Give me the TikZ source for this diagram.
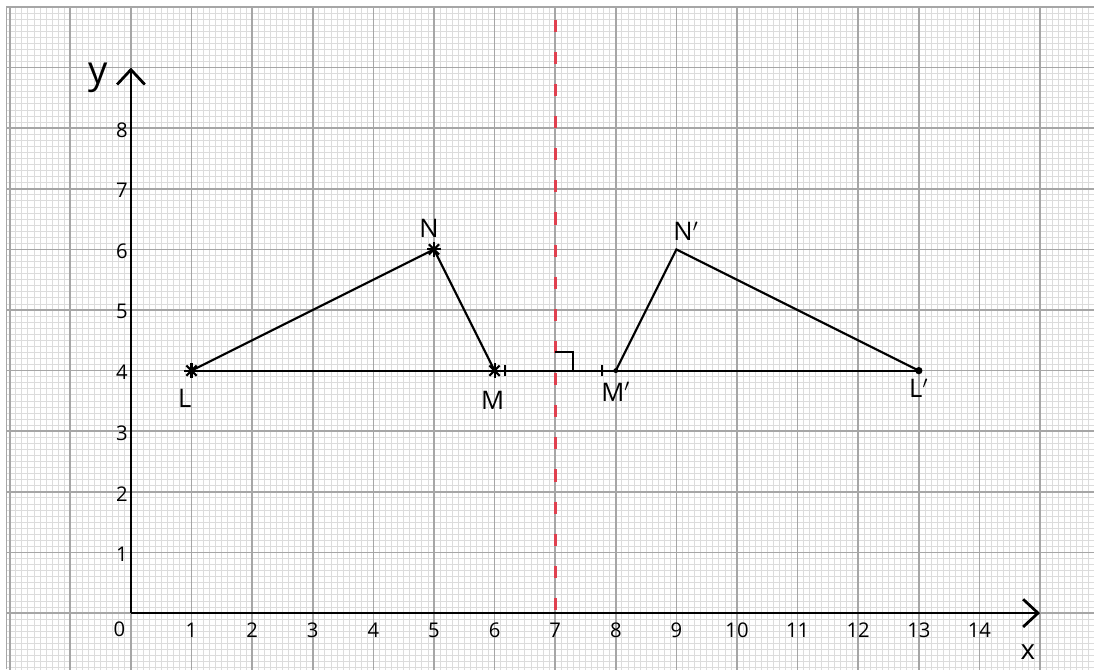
\documentclass[tikz,border=0pt]{standalone}
\usepackage{fontspec}
\setmainfont{Open Sans}
\usetikzlibrary{arrows.meta}
\definecolor{minorc}{HTML}{DCDCDC}
\definecolor{majorc}{HTML}{A6A6A6}
\definecolor{mirrorred}{HTML}{E0404F}
\tikzset{
  minorgrid/.style={draw=minorc, line width=0.4pt},
  majorgrid/.style={draw=majorc, line width=0.8pt},
  axisline/.style={black, line width=1.3pt, -{Straight Barb[length=7pt,width=13pt,line width=1.3pt]}},
  shapeline/.style={black, line width=1pt},
  ticklbl/.style={font=\fontsize{9.5}{9.5}\selectfont, inner sep=0pt},
  ptlbl/.style={font=\fontsize{12}{12}\selectfont, inner sep=0pt},
  mirror/.style={mirrorred, line width=1.4pt, dash pattern=on 0.2cm off 0.33cm},
}
\begin{document}
\begin{tikzpicture}[x=1cm,y=1cm]
\useasboundingbox[fill=white] (-2.16,-0.924) rectangle (15.89,10.115);
% graph paper
\begin{scope}
  \clip (-2.05,-0.93) rectangle (15.9,10.0);
  \draw[minorgrid, step=0.1] (-2.1,-1) grid (16,10.1);
  \draw[majorgrid, step=1] (-2.1,-1) grid (16,10.1);
\end{scope}
\draw[draw=majorc, line width=0.6pt] (-2.05,-0.93) -- (-2.05,10.0) -- (15.9,10.0);

% mirror line
\coordinate (mtop) at (7,9.79);
\coordinate (mbot) at (7,0);
\draw[mirror] (mtop) -- (mbot);

% axes
\coordinate (O) at (0,0);
\coordinate (xend) at (15,0);
\coordinate (yend) at (0,9);
\draw[axisline] (O) -- (xend);
\draw[axisline] (O) -- (yend);
\node[font=\fontsize{18}{18}\selectfont, inner sep=0pt] (ylab) at (-0.54,8.83) {y};
\node[font=\fontsize{13}{13}\selectfont, inner sep=0pt] (xlab) at (14.8,-0.64) {x};
\node[ticklbl] (x0) at (-0.19,-0.26) {0};
\foreach \i in {1,...,14} {
  \node[ticklbl] (x\i) at (\i,-0.28) {\i};
}
\foreach \j in {1,...,8} {
  \node[ticklbl] (y\j) at (-0.15,\j-0.03) {\j};
}

% points
\coordinate (L) at (1,4);
\coordinate (M) at (6,4);
\coordinate (N) at (5,6);
\coordinate (Lp) at (13,4);
\coordinate (Mp) at (8,4);
\coordinate (Np) at (9,6);

% triangles and connecting line
\draw[shapeline] (L) -- (Lp);
\draw[shapeline] (L) -- (N) -- (M);
\draw[shapeline] (Mp) -- (Np) -- (Lp);

% equal-distance ticks
\coordinate (t1) at (6.17,4);
\coordinate (t2) at (7.77,4);
\draw[shapeline] ([yshift=-0.09cm]t1) -- ([yshift=0.09cm]t1);
\draw[shapeline] ([yshift=-0.09cm]t2) -- ([yshift=0.09cm]t2);

% right angle mark
\coordinate (ra1) at (7,4.3);
\coordinate (ra2) at (7.3,4.3);
\coordinate (ra3) at (7.3,4);
\draw[black, line width=0.9pt] (ra1) -- (ra2) -- (ra3);

% star markers
\foreach \p in {L,M,N} {
  \foreach \a in {0,45,90,135} {
    \draw[black, line width=1pt] (\p) ++(\a:0.12) -- ++(\a+180:0.24);
  }
}
% dots
\fill[black] (Lp) circle (0.06);
\fill[black] (Mp) circle (0.04);

% labels
\node[ptlbl] (Nl) at (4.92,6.35) {N};
\node[ptlbl] (Npl) at (9.16,6.3) {N$'$};
\node[ptlbl] (Ll) at (0.89,3.55) {L};
\node[ptlbl] (Ml) at (5.97,3.51) {M};
\node[ptlbl] (Mpl) at (8.0,3.65) {M$'$};
\node[ptlbl] (Lpl) at (13.0,3.71) {L$'$};
\end{tikzpicture}
\end{document}
